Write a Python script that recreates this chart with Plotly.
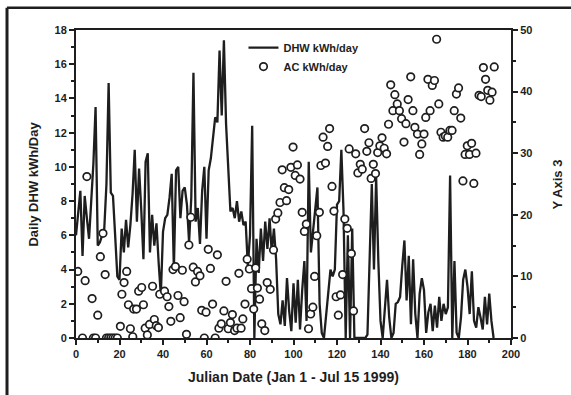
import plotly.graph_objects as go

# ---- data ----
dhw_days = list(range(0, 193))
dhw_values = [
    6.0, 7.5, 8.6, 4.8, 8.3, 7.0, 5.8, 8.0, 10.2, 13.5,   # 0-9
    5.4, 5.6, 6.0, 6.4, 9.0, 14.9, 8.5, 8.3, 6.0, 3.6,    # 10-19
    3.4, 6.4, 5.0, 6.9, 5.3, 6.6, 8.4, 11.0, 6.8, 9.9,    # 20-29
    7.5, 4.6, 10.3, 10.8, 5.0, 7.2, 5.4, 6.7, 4.4, 2.5,   # 30-39
    6.2, 7.0, 7.2, 8.2, 9.6, 4.0, 9.8, 10.0, 7.0, 8.6,    # 40-49
    8.8, 7.8, 5.6, 8.2, 15.5, 6.8, 7.6, 5.5, 8.6, 10.0,   # 50-59
    5.8, 9.8, 10.5, 11.9, 12.9, 12.6, 16.8, 13.0, 17.4, 12.5,  # 60-69
    10.2, 7.4, 7.6, 7.0, 8.0, 6.8, 7.4, 6.6, 6.8, 4.2,    # 70-79
    6.0, 12.4, 0.0, 5.8, 3.8, 6.4, 4.5, 6.8, 5.2, 7.0,    # 80-89
    5.0, 6.4, 4.6, 1.4, 0.8, 2.2, 0.7, 3.5, 1.6, 0.4,     # 90-99
    3.2, 0.9, 3.4, 0.5, 2.8, 4.5, 1.0, 10.3, 5.0, 6.2,    # 100-109
    7.6, 8.8, 2.0, 0.3, 0.0, 1.2, 2.6, 4.0, 3.6, 4.0,     # 110-119
    7.8, 8.0, 11.0, 7.4, 0.0, 6.0, 0.0, 6.4, 0.0, 0.0,    # 120-129
    0.0, 0.0, 0.0, 0.0, 0.2, 4.0, 9.0, 4.0, 9.4, 4.5,     # 130-139
    1.0, 0.0, 1.8, 3.4, 1.2, 0.0, 0.3, 2.0, 2.1, 2.4,     # 140-149
    4.2, 5.7, 2.2, 4.8, 0.8, 4.6, 1.4, 0.0, 2.6, 3.5,     # 150-159
    2.8, 0.3, 1.5, 2.0, 0.4, 1.9, 0.6, 2.4, 1.0, 2.0,     # 160-169
    1.4, 1.8, 9.5, 0.0, 4.5, 0.3, 0.0, 1.2, 3.4, 4.0,     # 170-179
    3.0, 1.4, 3.9, 1.0, 0.6, 1.8, 1.2, 0.5, 2.4, 0.8,     # 180-189
    2.6, 1.0, 0.0,                                         # 190-192
]

ac_days = [
    0.8, 3, 4.2, 5, 7.4, 8, 9, 10, 11.2, 12.4, 13.4, 14, 15, 16, 17, 18, 19,
    20.4, 21.1, 22.1, 23.3, 24.1, 25, 26.1, 26.5, 27.8, 28.8, 30.2, 31, 31.8,
    32.8, 33.8, 35.2, 36, 36.9, 37.9, 38.5, 40.7, 41.9, 42.7, 43.6, 44.6, 45.7,
    46.9, 47.9, 48.9, 49.7, 50.8, 51.9, 52.8, 53.9, 54.9, 55.9, 57, 57.8, 59,
    59.8, 60.8, 61.8, 62.8, 64, 65, 65.7, 66.8, 68, 69, 70, 71, 71.9, 72.9, 74,
    74.9, 75.9, 76.7, 77.7, 78.7, 79.7, 80.7, 81.7, 82.6, 83.4, 84.4, 85.4,
    86.8, 87.9, 89.3, 90.8, 91.8, 92.8, 93.8, 94.8, 95.8, 96.8, 97.8, 98.8,
    99.8, 100.8, 101.8, 103, 104, 105, 105.9, 106.9, 107.9, 108.9, 109.7,
    110.7, 111.9, 112.6, 113.6, 114.7, 115.7, 116.6, 117.7, 118.6, 119.6,
    120.6, 121.6, 122.6, 123.6, 124.7, 125.6, 126.6, 127.6, 128.6, 129.6,
    130.7, 131.6, 132.7, 133.7, 134.7, 135.7, 136.7, 137.7, 138.7, 139.7,
    140.7, 141.7, 142.8, 143.7, 144.7, 145.7, 146.6, 147.7, 148.7, 149.7,
    150.8, 151.7, 152.7, 153.9, 154.9, 155.8, 157, 158, 159, 160, 160.8,
    161.8, 162.8, 163.8, 164.8, 165.8, 166.8, 167.8, 168.8, 169.8, 170.9,
    171.9, 172.9, 173.9, 174.9, 175.9, 176.9, 177.9, 178.9, 179.9, 180.9,
    181.9, 182.9, 183.9, 185.3, 186.3, 187.3, 188.3, 189.3, 190.3, 191.3, 192.3,
]
ac_values = [
    10.8, 0, 9.3, 26.2, 6.4, 0, 0, 3.7, 13.2, 17.0, 10.3, 0, 0, 0, 0, 0, 0,
    1.9, 7.1, 9.0, 10.8, 5.4, 1.5, 0.2, 4.7, 4.7, 7.6, 8.2, 5.4, 1.6,
    0.5, 2.2, 8.4, 3.0, 2.0, 1.7, 7.1, 7.6, 6.7, 5.1, 2.7, 11.1, 11.6,
    6.9, 3.3, 11.0, 5.9, 0.6, 15.1, 19.6, 11.5, 9.1, 10.8, 10.1, 4.5, 0,
    4.2, 14.4, 11.3, 5.5, 0, 13.5, 1.6, 2.3, 4.4, 9.2, 1.5, 2.5, 3.8, 1.2, 1.6,
    10.5, 1.6, 3.1, 5.5, 12.8, 11.2, 8.0, 4.7, 11.4, 8.1, 6.3, 2.3,
    1.2, 9.0, 7.9, 14.3, 19.3, 20.3, 22.0, 27.3, 24.4, 22.3, 24.1, 27.7,
    31.0, 26.4, 28.1, 25.8, 20.4, 17.3, 18.5, 1.5, 3.9, 5.0, 10.0,
    16.6, 20.4, 28.0, 32.6, 28.4, 31.1, 34.0, 24.6, 20.6, 6.7,
    3.7, 7.0, 10.3, 19.3, 17.8, 30.7, 13.7, 4.4, 29.9, 26.8,
    28.2, 27.4, 34.0, 30.3, 31.7, 25.9, 28.2, 26.7, 30.1, 31.2,
    32.5, 30.8, 29.9, 34.7, 41.1, 36.9, 39.5, 38.0, 36.9, 35.6,
    31.8, 34.8, 38.7, 42.4, 36.9, 34.2, 33.1, 29.8, 31.5, 33.1, 35.8,
    42.0, 36.9, 41.0, 41.8, 48.5, 38.0, 33.4, 32.6, 32.8, 32.6,
    33.7, 33.7, 36.9, 39.6, 40.6, 35.7, 25.5, 29.8, 31.2, 29.8,
    31.6, 25.1, 30.0, 39.4, 39.2, 43.9, 42.0, 40.2, 38.6, 39.9, 44.0,
]

x_ticks = [0, 20, 40, 60, 80, 100, 120, 140, 160, 180, 200]
left_ticks = [0, 2, 4, 6, 8, 10, 12, 14, 16, 18]
right_ticks = [0, 10, 20, 30, 40, 50]

FONT = "Liberation Sans, Arial, sans-serif"
INK = "#1e1e1e"

fig = go.Figure()
fig.add_trace(go.Scatter(
    x=dhw_days, y=dhw_values, mode="lines", name="DHW kWh/day",
    line=dict(color=INK, width=2.3), yaxis="y",
))
fig.add_trace(go.Scatter(
    x=ac_days, y=ac_values, mode="markers", name="AC kWh/day",
    marker=dict(symbol="circle", size=7.5, color="white",
                line=dict(color=INK, width=1.7)),
    yaxis="y2",
))

axis_common = dict(
    showgrid=False, zeroline=False, showline=True, linecolor=INK,
    linewidth=2, ticks="outside", tickcolor=INK, tickwidth=1.5,
    ticklen=5,
    tickfont=dict(family=FONT, size=11, color=INK, weight="bold"),
)

fig.update_layout(
    width=571, height=395,
    margin=dict(l=76, r=60, t=30, b=57),
    paper_bgcolor="white", plot_bgcolor="white",
    showlegend=True,
    legend=dict(x=0.385, y=0.99, xanchor="left", yanchor="top",
                bgcolor="rgba(0,0,0,0)", borderwidth=0,
                font=dict(family=FONT, size=11, color=INK, weight="bold"),
                itemwidth=30, tracegroupgap=0),
    xaxis=dict(range=[0, 200], tickvals=x_ticks, mirror=True,
               minor=dict(ticks="outside", dtick=10, ticklen=3,
                          tickcolor=INK),
               **axis_common),
    yaxis=dict(range=[0, 18], tickvals=left_ticks,
               minor=dict(ticks="outside", dtick=1, ticklen=3,
                          tickcolor=INK),
               **axis_common),
    yaxis2=dict(range=[0, 50], tickvals=right_ticks, overlaying="y",
                side="right",
                minor=dict(ticks="outside", dtick=5, ticklen=3,
                           tickcolor=INK),
                **axis_common),
    annotations=[
        dict(text="Julian Date (Jan 1 - Jul 15 1999)", xref="paper",
             yref="paper", x=0.5, y=-0.095, xanchor="center",
             yanchor="top", showarrow=False,
             font=dict(family=FONT, size=14, color=INK, weight="bold")),
        dict(text="Daily DHW kWh/Day", xref="paper", yref="paper",
             x=-0.078, y=0.5, textangle=-90, xanchor="right",
             yanchor="middle", showarrow=False,
             font=dict(family=FONT, size=13, color=INK, weight="bold")),
        dict(text="Y Axis 3", xref="paper", yref="paper",
             x=1.085, y=0.5, textangle=-90, xanchor="left",
             yanchor="middle", showarrow=False,
             font=dict(family=FONT, size=13, color=INK, weight="bold")),
    ],
    shapes=[
        dict(type="line", xref="paper", yref="paper",
             x0=-0.1586, x1=-0.1586, y0=-0.2, y1=1.072,
             line=dict(color=INK, width=3)),
        dict(type="line", xref="paper", yref="paper",
             x0=-0.1586, x1=1.2, y0=1.072, y1=1.072,
             line=dict(color=INK, width=2.5)),
    ],
)

fig.write_html("out.html")
